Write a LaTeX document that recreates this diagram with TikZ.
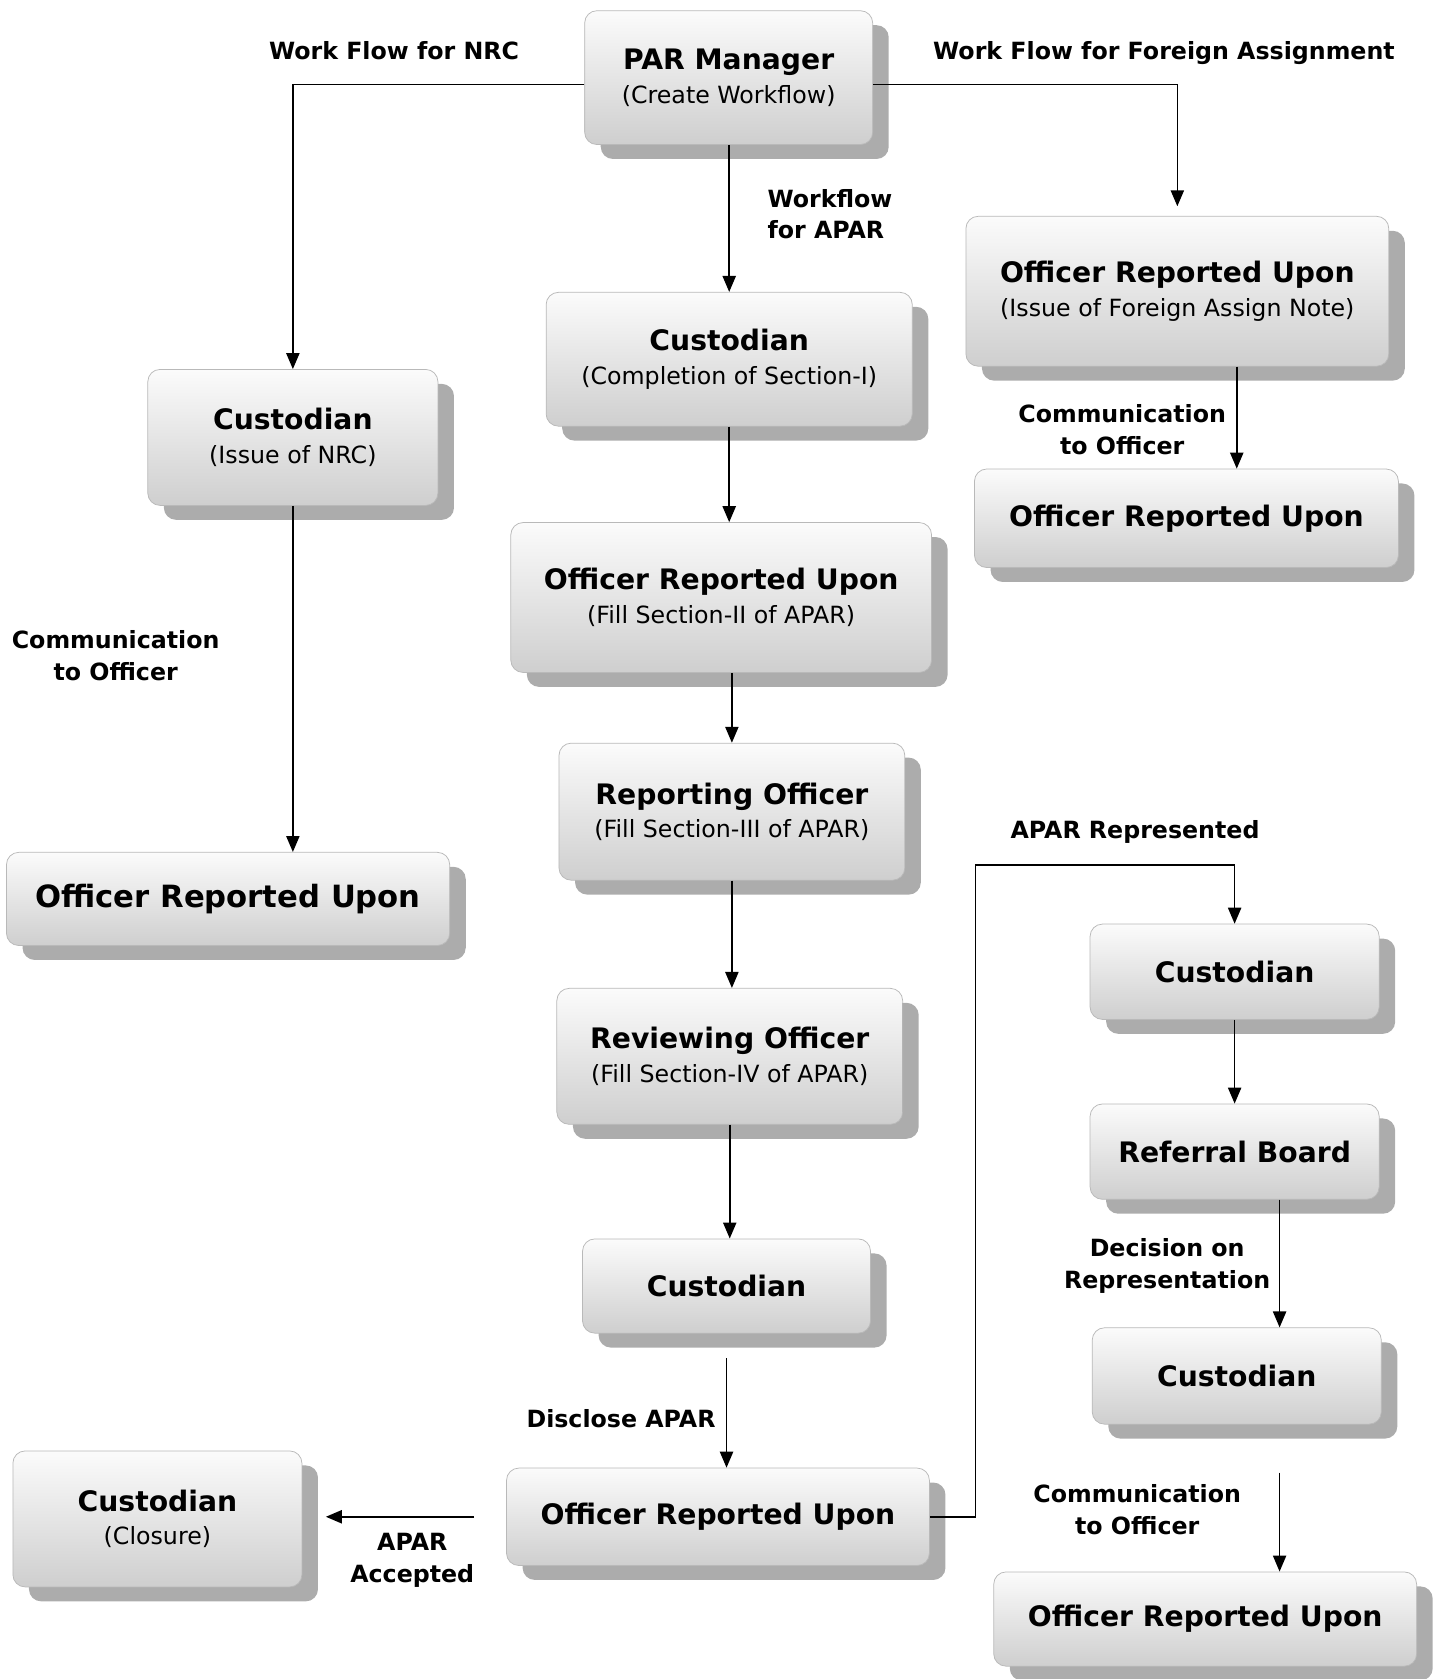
\documentclass[tikz,border=0pt]{standalone}
\usepackage{fontspec}
\setmainfont{DejaVu Sans}
\usepackage{tikz}
\usetikzlibrary{positioning,shadows,arrows.meta}

\newcommand{\subline}[1]{{\mdseries\fontsize{12.6}{17.8}\selectfont #1}}

\tikzset{
  stage/.style={draw=gray!55, line width=0.4pt, rounded corners=6.5pt,
    top color=gray!3, bottom color=gray!38, align=center, inner sep=0pt,
    font=\fontsize{15}{17.8}\selectfont\bfseries,
    drop shadow={shadow xshift=0.3cm, shadow yshift=-0.27cm, fill=gray!65, opacity=1}},
  flowlabel/.style={align=center, font=\fontsize{12.6}{17}\selectfont\bfseries, inner sep=0pt},
  >={Triangle[length=8.5pt,width=7pt]},
}

\begin{document}
\begin{tikzpicture}[x=0.02cm, y=-0.02cm, line width=0.9pt]

  \useasboundingbox (0,0) rectangle (1346,1568);

  % main column
  \node[stage, minimum width=5.38cm, minimum height=2.50cm] (par)   at (680.5,72.5)  {PAR Manager\\\subline{(Create Workflow)}};
  \node[stage, minimum width=6.84cm, minimum height=2.50cm] (cusI)  at (681,335.5)   {Custodian\\\subline{(Completion of Section-I)}};
  \node[stage, minimum width=7.86cm, minimum height=2.80cm] (oruII) at (673.5,558)   {Officer Reported Upon\\\subline{(Fill Section-II of APAR)}};
  \node[stage, minimum width=6.46cm, minimum height=2.56cm] (rep)   at (683.5,758)   {Reporting Officer\\\subline{(Fill Section-III of APAR)}};
  \node[stage, minimum width=6.46cm, minimum height=2.54cm] (rev)   at (681.5,986.5) {Reviewing Officer\\\subline{(Fill Section-IV of APAR)}};
  \node[stage, minimum width=5.38cm, minimum height=1.76cm] (cusC)  at (678.5,1201)  {Custodian};
  \node[stage, minimum width=7.90cm, minimum height=1.82cm] (oruC)  at (670.5,1416.5){Officer Reported Upon};
  \node[stage, minimum width=5.40cm, minimum height=2.54cm] (clos)  at (147,1418.5)  {Custodian\\\subline{(Closure)}};

  % NRC branch
  \node[stage, minimum width=5.42cm, minimum height=2.54cm] (nrc)   at (273.5,408.5) {Custodian\\\subline{(Issue of NRC)}};
  \node[stage, minimum width=8.28cm, minimum height=1.74cm, font=\fontsize{16.3}{20}\selectfont\bfseries] (oruL) at (213,839.5) {Officer Reported Upon};

  % foreign assignment branch
  \node[stage, minimum width=7.90cm, minimum height=2.80cm] (oruF)  at (1099.5,272)  {Officer Reported Upon\\\subline{(Issue of Foreign Assign Note)}};
  \node[stage, minimum width=7.92cm, minimum height=1.84cm] (oruFb) at (1108,484)    {Officer Reported Upon};

  % representation branch
  \node[stage, minimum width=5.40cm, minimum height=1.78cm] (cusR)  at (1153,907.5)  {Custodian};
  \node[stage, minimum width=5.40cm, minimum height=1.78cm] (ref)   at (1153,1075.5) {Referral Board};
  \node[stage, minimum width=5.40cm, minimum height=1.80cm] (cusRb) at (1155,1285)   {Custodian};
  \node[stage, minimum width=7.90cm, minimum height=1.76cm] (oruR)  at (1125.5,1512) {Officer Reported Upon};

  % labels
  \node[flowlabel] (lnrc)  at (368,47)    {Work Flow for NRC};
  \node[flowlabel] (lfor)  at (1087,50)   {Work Flow for Foreign Assignment};
  \node[flowlabel, align=left, anchor=west] (lapar) at (716,200) {Workflow\\for APAR};
  \node[flowlabel] (lcomF) at (1048,401.5) {Communication\\to Officer};
  \node[flowlabel] (lcomN) at (108,612)   {Communication\\to Officer};
  \node[flowlabel] (lrepr) at (1060,777)  {APAR Represented};
  \node[flowlabel] (ldec)  at (1090,1182) {Decision on\\Representation};
  \node[flowlabel] (lcomR) at (1062,1409.5) {Communication\\to Officer};
  \node[flowlabel] (ldisc) at (580,1325)  {Disclose APAR};
  \node[flowlabel] (lacc)  at (385,1457)  {APAR\\Accepted};

  \coordinate (bend) at (911,808);

  % connectors
  \draw[->] ([yshift=-0.13cm]par.west) -| (nrc.north);
  \draw[->, shorten >=0.18cm] ([yshift=-0.13cm]par.east) -| (oruF.north);
  \draw[->] (cusI.north |- par.south) -- (cusI.north);
  \draw[->] (cusI.south) -- (cusI.south |- oruII.north);
  \draw[->] (rep.north |- oruII.south) -- (rep.north);
  \draw[->] (rep.south) -- (rep.south |- rev.north);
  \draw[->] (rev.south) -- (rev.south |- cusC.north);
  \draw[->, shorten <=0.46cm] (cusC.south) -- (cusC.south |- oruC.north);
  \draw[->, shorten <=0.6cm, shorten >=0.44cm] (oruC.west) -- (clos.east |- oruC.west);
  \draw[->] (oruC.east) -| (bend) -| (cusR.north);
  \draw[->] (cusR.south) -- (cusR.south |- ref.north);
  \draw[->] ([xshift=0.84cm]ref.south) -- ([xshift=0.84cm]ref.south |- cusRb.north);
  \draw[->, shorten <=0.9cm] ([xshift=0.8cm]cusRb.south) -- ([xshift=0.8cm]cusRb.south |- oruR.north);
  \draw[->] ([xshift=1.11cm]oruF.south) -- ([xshift=1.11cm]oruF.south |- oruFb.north);
  \draw[->] (nrc.south) -- (nrc.south |- oruL.north);
\end{tikzpicture}
\end{document}
